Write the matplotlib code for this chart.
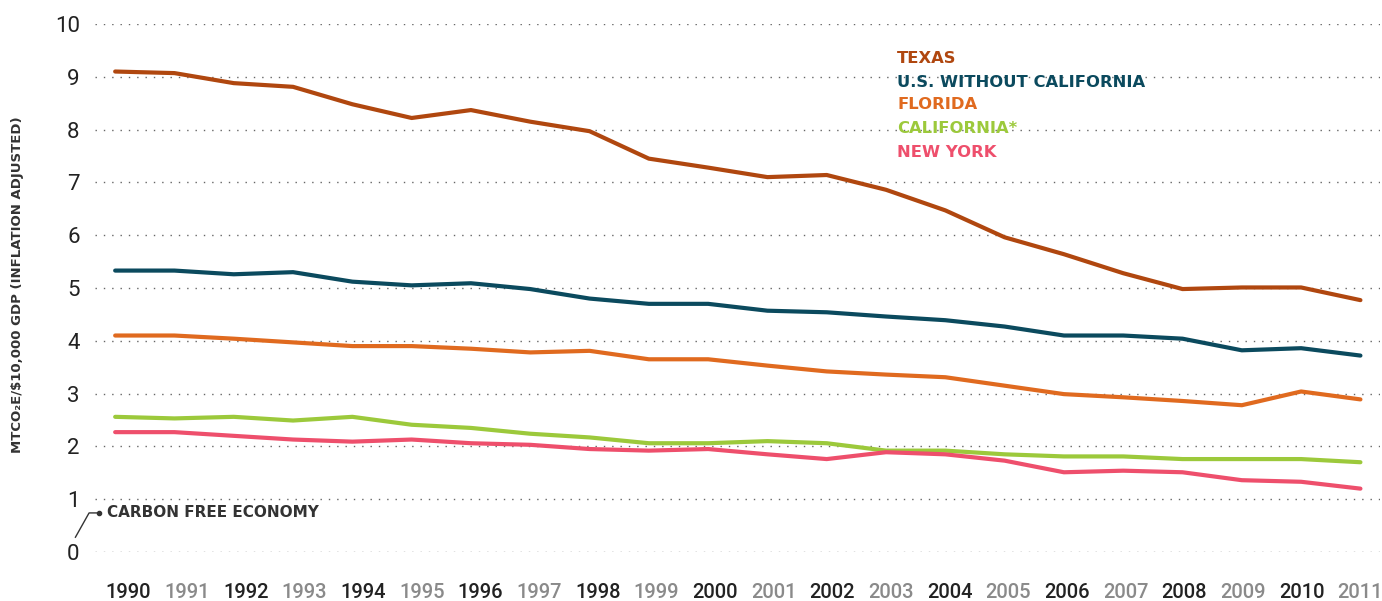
import matplotlib.pyplot as plt
import matplotlib.transforms as mtransforms
import numpy as np

years = list(range(1990, 2012))

texas = [9.10, 9.07, 8.88, 8.81, 8.48, 8.22, 8.37, 8.15, 7.97, 7.45, 7.28,
         7.10, 7.14, 6.86, 6.47, 5.96, 5.64, 5.28, 4.98, 5.01, 5.01, 4.77]
us_no_ca = [5.33, 5.33, 5.26, 5.30, 5.12, 5.05, 5.09, 4.98, 4.80, 4.70, 4.70,
            4.57, 4.54, 4.46, 4.39, 4.27, 4.10, 4.10, 4.04, 3.82, 3.86, 3.72]
florida = [4.10, 4.10, 4.04, 3.97, 3.90, 3.90, 3.85, 3.78, 3.81, 3.65, 3.65,
           3.53, 3.42, 3.36, 3.31, 3.15, 2.99, 2.93, 2.86, 2.78, 3.04, 2.89]
california = [2.56, 2.53, 2.56, 2.49, 2.56, 2.41, 2.35, 2.24, 2.17, 2.06, 2.06,
              2.10, 2.06, 1.92, 1.92, 1.85, 1.81, 1.81, 1.76, 1.76, 1.76, 1.70]
new_york = [2.27, 2.27, 2.20, 2.13, 2.09, 2.13, 2.06, 2.03, 1.95, 1.92, 1.95,
            1.85, 1.76, 1.89, 1.85, 1.73, 1.51, 1.54, 1.51, 1.36, 1.33, 1.20]

names = ['TEXAS', 'U.S. WITHOUT CALIFORNIA', 'FLORIDA', 'CALIFORNIA*', 'NEW YORK']
colors = ['#b0470f', '#0b4a5e', '#e06a1f', '#9cc93b', '#ee4f6c']
series = [texas, us_no_ca, florida, california, new_york]

numfont = ['Roboto', 'DejaVu Sans']

fig = plt.figure(figsize=(13.82, 6.01), dpi=100)
ax = fig.add_axes([95/1382, 49/601, 1285/1382, 528/601])

for vals, c in zip(series, colors):
    ax.plot(years, vals, color=c, lw=3, solid_capstyle='round', solid_joinstyle='round', zorder=3)

ax.set_xlim(1989.66, 2011.33)
ax.set_ylim(0, 10)
for s in ax.spines.values():
    s.set_visible(False)

for yv in range(0, 11):
    ax.axhline(yv, color='#666666', lw=1.0, ls=(0, (1, 5)), zorder=1)

ax.set_yticks(range(0, 11))
ax.set_yticklabels([str(v) for v in range(0, 11)], fontsize=16, family=numfont, color='#222222')
ax.tick_params(axis='y', length=0, pad=11)

ax.set_xticks(years)
ax.set_xticklabels([str(y) for y in years], fontsize=14.5, family=numfont, fontweight='medium')
ax.tick_params(axis='x', length=0, pad=22)
# year labels sit a little right of their points on the left side
for i, (lbl, y) in enumerate(zip(ax.get_xticklabels(), years)):
    lbl.set_color('#222222' if y % 2 == 0 else '#8a8a8a')
    shift = 9.5 * (1 - i / 21) / 72
    lbl.set_transform(lbl.get_transform() + mtransforms.ScaledTranslation(shift, 0, fig.dpi_scale_trans))

# legend as coloured text
leg_y = [9.34, 8.90, 8.47, 8.03, 7.57]
for name, c, ly in zip(names, colors, leg_y):
    ax.text(2003.19, ly, name, color=c, fontsize=11.8, fontweight='bold', va='center', ha='left')

# carbon free economy marker
ax.plot([1989.33, 1989.56, 1989.73], [0.28, 0.74, 0.74], color='#333333', lw=1, clip_on=False)
ax.plot([1989.73], [0.74], 'o', color='#333333', ms=3, clip_on=False)
ax.text(1989.87, 0.74, 'CARBON FREE ECONOMY', color='#333333', fontsize=11, fontweight='bold', va='center', ha='left')

fig.text(0.013, 0.526, 'MTCO₂E/\\$10,000 GDP (INFLATION ADJUSTED)', rotation=90, va='center', ha='center',
         fontsize=9.5, fontweight='bold', color='#333333')

fig.savefig('out.png', dpi=100)
